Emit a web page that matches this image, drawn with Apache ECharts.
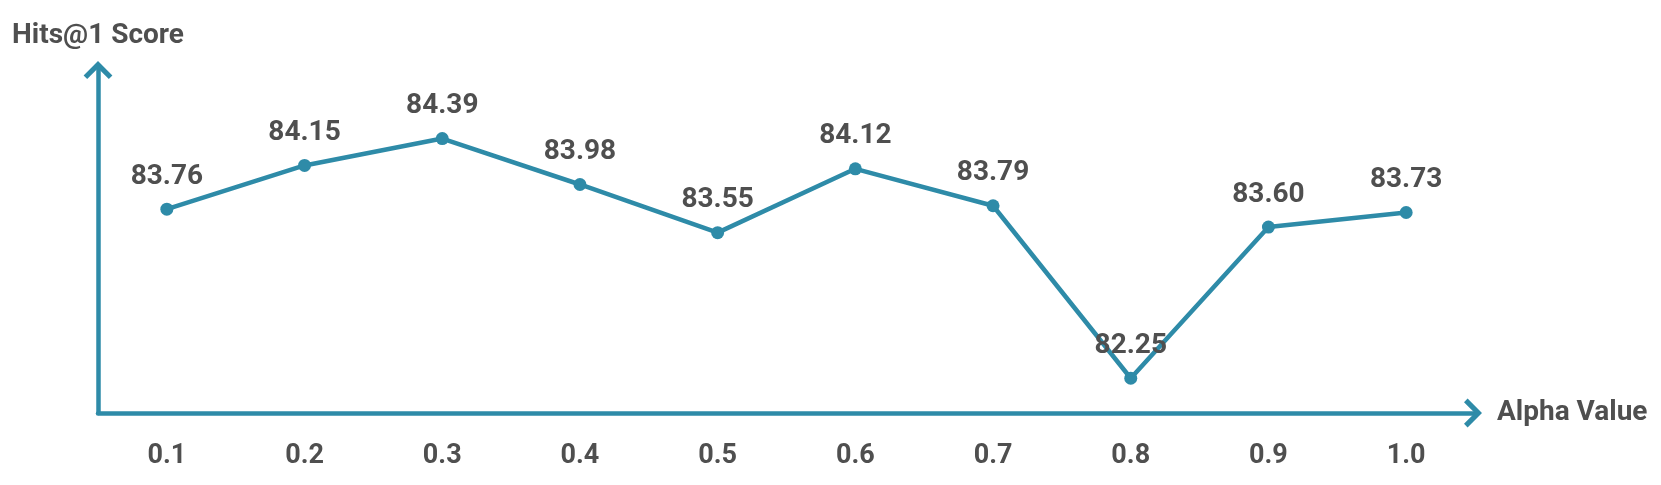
<!DOCTYPE html>
<html>
<head>
<meta charset="utf-8">
<script src="https://cdn.jsdelivr.net/npm/echarts@6/dist/echarts.min.js"></script>
<style>
  html, body { margin: 0; padding: 0; background: #fff; }
  #main { width: 1661px; height: 485px; }
</style>
</head>
<body>
<div id="main"></div>
<script>
// alpha on the x axis, Hits@1 on the y axis
var alphaValues = ['0.1', '0.2', '0.3', '0.4', '0.5', '0.6', '0.7', '0.8', '0.9', '1.0'];
var hitsScores = [83.76, 84.15, 84.39, 83.98, 83.55, 84.12, 83.79, 82.25, 83.60, 83.73];

var lineColor = '#2e8ba8';
var textColor = '#4f4f4f';
// open chevron pointing up, echarts turns it for the x axis
var chevron = 'path://M0,10 L10,0 L20,10 L17.5,12.5 L10,5 L2.5,12.5 Z';

var myChart = echarts.init(document.getElementById('main'));

var option = {
  animation: false,
  textStyle: { fontFamily: 'Roboto' },
  grid: {
    left: 98,
    right: 186,
    top: 68,
    bottom: 72
  },
  xAxis: {
    type: 'category',
    data: alphaValues,
    boundaryGap: true,
    name: 'Alpha Value',
    nameLocation: 'end',
    nameGap: 22,
    nameTextStyle: { color: textColor, fontSize: 28, fontWeight: 'bold' },
    axisLine: {
      lineStyle: { color: lineColor, width: 4.5 },
      symbol: ['none', chevron],
      symbolSize: [32, 18],
      symbolOffset: [0, -2]
    },
    axisTick: { show: false },
    axisLabel: { color: textColor, fontSize: 27, fontWeight: 'bold', margin: 30 },
    splitLine: { show: false }
  },
  yAxis: {
    type: 'value',
    min: 81.94,
    max: 85.02,
    name: 'Hits@1 Score',
    nameLocation: 'end',
    nameGap: 18,
    nameTextStyle: { color: textColor, fontSize: 28, fontWeight: 'bold' },
    axisLine: {
      show: true,
      lineStyle: { color: lineColor, width: 4.5 },
      symbol: ['none', chevron],
      symbolSize: [32, 18],
      symbolOffset: [0, -2]
    },
    axisTick: { show: false },
    axisLabel: { show: false },
    splitLine: { show: false }
  },
  series: [
    {
      type: 'line',
      data: hitsScores,
      symbol: 'circle',
      symbolSize: 13,
      lineStyle: { color: lineColor, width: 4.5 },
      itemStyle: { color: lineColor },
      label: {
        show: true,
        position: 'top',
        distance: 12,
        color: textColor,
        fontSize: 28,
        fontWeight: 'bold',
        formatter: function(p) { return p.value.toFixed(2); }
      }
    }
  ]
};

myChart.setOption(option);
</script>
</body>
</html>
